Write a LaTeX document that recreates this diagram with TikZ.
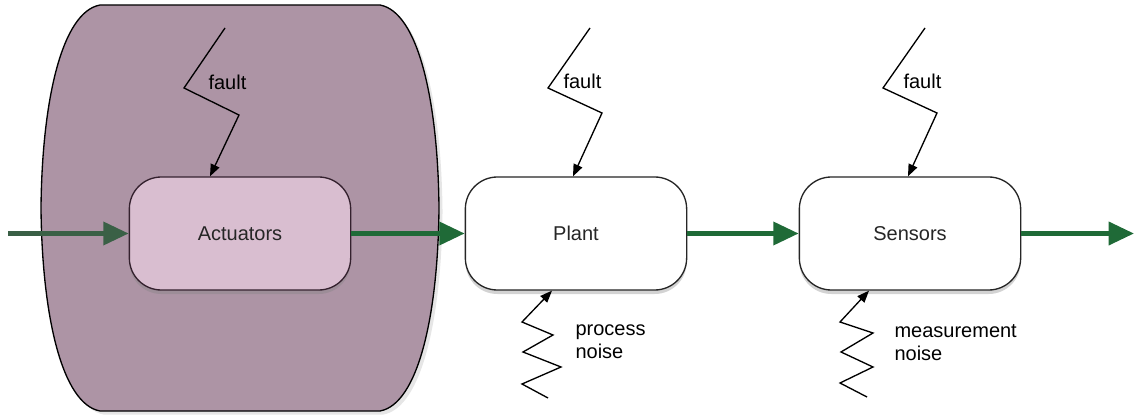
\documentclass[tikz,border=0pt]{standalone}
\usepackage{fontspec}
\setmainfont{Liberation Sans}
\usetikzlibrary{arrows.meta,shadows,calc}
\definecolor{blockpurple}{RGB}{173,148,165}
\definecolor{actpink}{RGB}{217,190,208}
\definecolor{actborder}{RGB}{52,33,46}
\definecolor{flowgreen}{RGB}{31,106,55}
\definecolor{dimgreen}{RGB}{58,96,70}

\begin{document}
\begin{tikzpicture}[x=0.75pt,y=-0.75pt,>={Triangle[length=9pt,width=7pt]},thick]
\tikzset{BlockStyle/.style = {draw=black!85,line width=1pt,fill=white,
                              rectangle,rounded corners=24pt,
                              minimum width=166pt,minimum height=84.75pt,
                              font=\fontsize{15}{18}\selectfont,text=black!85,
                              drop shadow={shadow xshift=0pt,shadow yshift=-3pt,opacity=.35}},
         FlowStyle/.style = {draw=flowgreen,line width=3.5pt,-{Triangle[length=19pt,width=17pt]}},
         BoltStyle/.style = {draw=black,line width=1pt,->},
         LabelStyle/.style = {font=\fontsize{15}{17.25}\selectfont,align=left,inner sep=0pt}}
\useasboundingbox (0,0) rectangle (1135,417);
% the actuator block
\draw[fill=blockpurple,line width=1pt,drop shadow={opacity=.2}]
  (100,5) -- (380,5) .. controls (418,12) and (438,100) .. (439,208)
  .. controls (438,316) and (418,404) .. (380,411) -- (100,411)
  .. controls (62,404) and (42,316) .. (41,208)
  .. controls (42,100) and (62,12) .. cycle;
\node[BlockStyle,fill=actpink,draw=actborder] (act) at (240,233.5) {Actuators};
\node[BlockStyle] (plant) at (576,233.5) {Plant};
\node[BlockStyle] (sens) at (910,233.5) {Sensors};
\coordinate (in) at (8,233.5);
\coordinate (out) at (1134,233.5);
\draw[FlowStyle,draw=dimgreen] (in) -- (act);
\draw[FlowStyle] (act) -- (plant);
\draw[FlowStyle] (plant) -- (sens);
\draw[FlowStyle] (sens) -- (out);
% faults
\coordinate (actfault) at (225,28);
\coordinate (plantfault) at (590,28);
\coordinate (sensfault) at (925,28);
\draw[BoltStyle] (actfault) -- (184,88) -- (239,115) -- ($(act.north)+(-30,0)$);
\draw[BoltStyle] (plantfault) -- (548,88) -- (602,113) -- ($(plant.north)+(-3,0)$);
\draw[BoltStyle] (sensfault) -- (883,88) -- (937,113) -- ($(sens.north)+(-2,0)$);
\node[LabelStyle,anchor=west] (actfaultlbl) at (208,82) {fault};
\node[LabelStyle,anchor=west] (plantfaultlbl) at (563,81) {fault};
\node[LabelStyle,anchor=west] (sensfaultlbl) at (903,81) {fault};
% noise
\coordinate (plantnoise) at (548,398);
\coordinate (sensnoise) at (867,397);
\draw[BoltStyle] (plantnoise) -- (522,384) -- (561,367) -- (523,352) -- (553,335)
  -- (522,322) -- ($(plant.south)+(-24,0)$);
\draw[BoltStyle] (sensnoise) -- (840,383) -- (873,367) -- (841,352) -- (873,333)
  -- (840,322) -- ($(sens.south)+(-41,0)$);
\node[LabelStyle,anchor=north west] (plantnoiselbl) at (575,324) {process\\noise};
\node[LabelStyle,anchor=north west] (sensnoiselbl) at (894,324) {measurement\\noise};
\end{tikzpicture}
\end{document}
